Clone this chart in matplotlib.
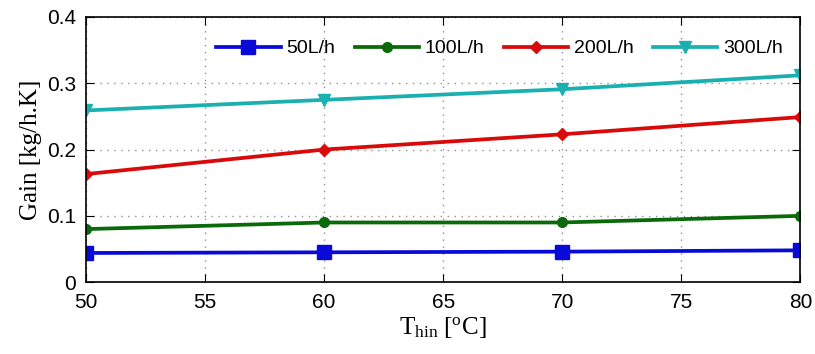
import numpy as np
import matplotlib.pyplot as plt

# inlet hot-water temperature [degC]
T_hin = [50, 60, 70, 80]

# gain for each flow rate [kg/h.K]
gain_50 = [0.044, 0.045, 0.046, 0.048]
gain_100 = [0.080, 0.090, 0.090, 0.100]
gain_200 = [0.163, 0.200, 0.223, 0.249]
gain_300 = [0.259, 0.275, 0.291, 0.312]

labels = ['50L/h', '100L/h', '200L/h', '300L/h']

plt.rcParams['font.family'] = 'Liberation Sans'
plt.rcParams['mathtext.fontset'] = 'custom'
plt.rcParams['mathtext.rm'] = 'Liberation Serif'
plt.rcParams['mathtext.it'] = 'Liberation Serif:italic'

fig = plt.figure(figsize=(8.15, 3.54), dpi=100)
ax = fig.add_axes([0.1055, 0.203, 0.8765, 0.749])

series = [gain_50, gain_100, gain_200, gain_300]
colors = ['#0a0ad8', '#0a6a0a', '#d80a0a', '#1ab0b0']
markers = ['s', 'o', 'D', 'v']
sizes = [10, 7, 6, 8]

for y, lab, c, m, ms in zip(series, labels, colors, markers, sizes):
    ax.plot(T_hin, y, color=c, marker=m, markersize=ms, linewidth=2.7, label=lab)

ax.set_xlim(50, 80)
ax.set_ylim(0, 0.4)
ax.set_xticks([50, 55, 60, 65, 70, 75, 80])
ax.set_yticks([0, 0.1, 0.2, 0.3, 0.4])
ax.set_yticklabels(['0', '0.1', '0.2', '0.3', '0.4'])
ax.tick_params(direction='in', labelsize=15, length=6, top=True, right=True)
ax.tick_params(axis='x', pad=8)
ax.tick_params(axis='y', pad=7)
ax.grid(True, linestyle=(0, (1, 4)), color='#909090', linewidth=1)
for s in ax.spines.values():
    s.set_linewidth(1.2)

ax.set_xlabel(r'$\mathrm{T_{hin}}\ [\mathrm{{}^{o}C}]$', fontsize=18, labelpad=2)
ax.set_ylabel('Gain [kg/h.K]', fontsize=18, family='Liberation Serif', labelpad=4)

ax.legend(loc='upper right', ncol=4, frameon=False, fontsize=14,
          handlelength=3.3, columnspacing=1.0, handletextpad=0.3,
          bbox_to_anchor=(1.0, 0.98))

plt.savefig('out.png', dpi=100)
